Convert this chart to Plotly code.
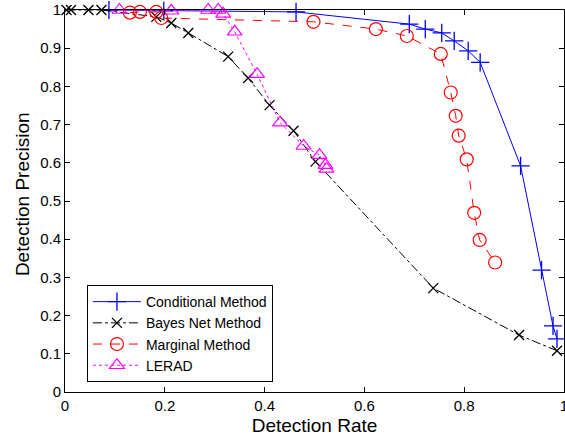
import plotly.graph_objects as go

cond_x = [0.088, 0.198, 0.463, 0.690, 0.722, 0.755, 0.780, 0.808, 0.832, 0.913, 0.955, 0.978, 0.986]
cond_y = [1.000, 0.998, 0.995, 0.963, 0.950, 0.940, 0.919, 0.893, 0.863, 0.592, 0.319, 0.173, 0.139]

bayes_x = [0.003, 0.012, 0.047, 0.073, 0.183, 0.213, 0.247, 0.327, 0.367, 0.410, 0.458, 0.502, 0.738, 0.910, 0.986]
bayes_y = [1.000, 1.000, 1.000, 1.000, 0.982, 0.966, 0.940, 0.878, 0.822, 0.751, 0.684, 0.603, 0.272, 0.149, 0.108]

marg_x = [0.130, 0.150, 0.183, 0.193, 0.498, 0.623, 0.685, 0.753, 0.773, 0.783, 0.789, 0.805, 0.820, 0.831, 0.862]
marg_y = [0.993, 0.995, 0.995, 0.979, 0.969, 0.950, 0.932, 0.885, 0.784, 0.723, 0.671, 0.609, 0.469, 0.398, 0.339]

lerad_x = [0.109, 0.213, 0.287, 0.307, 0.317, 0.340, 0.385, 0.431, 0.478, 0.510, 0.522, 0.524]
lerad_y = [1.000, 0.998, 1.000, 1.000, 0.990, 0.943, 0.832, 0.705, 0.644, 0.620, 0.594, 0.584]

names = ["Conditional Method", "Bayes Net Method", "Marginal Method", "LERAD"]
x_ticks = [0, 0.2, 0.4, 0.6, 0.8, 1]
y_ticks = [0, 0.1, 0.2, 0.3, 0.4, 0.5, 0.6, 0.7, 0.8, 0.9, 1]

FONT = "Liberation Sans, Arial, sans-serif"

fig = go.Figure()
fig.add_trace(go.Scatter(x=cond_x, y=cond_y, name=names[0], mode="lines+markers",
                         line=dict(color="#0000ff", width=1),
                         marker=dict(symbol="cross-thin-open", size=13, color="#0000ff",
                                     line=dict(color="#0000ff", width=1.3)),
                         cliponaxis=False))
fig.add_trace(go.Scatter(x=bayes_x, y=bayes_y, name=names[1], mode="lines+markers",
                         line=dict(color="#000000", width=1, dash="dashdot"),
                         marker=dict(symbol="x-thin-open", size=10, color="#000000",
                                     line=dict(color="#000000", width=1.3)),
                         cliponaxis=False))
fig.add_trace(go.Scatter(x=marg_x, y=marg_y, name=names[2], mode="lines+markers",
                         line=dict(color="#ff0000", width=1, dash="dash"),
                         marker=dict(symbol="circle-open", size=13, color="#ff0000",
                                     line=dict(color="#ff0000", width=1.2)),
                         cliponaxis=False))
fig.add_trace(go.Scatter(x=lerad_x, y=lerad_y, name=names[3], mode="lines+markers",
                         line=dict(color="#ff00ff", width=1, dash="dot"),
                         marker=dict(symbol="triangle-up-open", size=13, color="#ff00ff",
                                     line=dict(color="#ff00ff", width=1.2)),
                         cliponaxis=False))

axis_common = dict(showgrid=False, zeroline=False, showline=True, linecolor="black",
                   linewidth=1, mirror="ticks", ticks="inside", ticklen=5,
                   tickcolor="black", automargin=False, ticklabeloverflow="allow",
                   tickfont=dict(family=FONT, size=15, color="black"))

def fmt(v):
    return str(int(v)) if v in (0, 1) else str(v)

fig.update_xaxes(range=[0, 1], tickvals=x_ticks, ticktext=[fmt(v) for v in x_ticks],
                 title=dict(text="Detection Rate", font=dict(family=FONT, size=19, color="black")),
                 **axis_common)
fig.update_yaxes(range=[0, 1], tickvals=y_ticks, ticktext=[fmt(v) for v in y_ticks],
                 **axis_common)

fig.add_annotation(text="Detection Precision", xref="paper", yref="paper",
                   x=-0.0862, y=0.518, xanchor="center", yanchor="middle",
                   textangle=-90, showarrow=False,
                   font=dict(family=FONT, size=19, color="black"))

fig.update_layout(
    width=565, height=436,
    margin=dict(l=65, r=1, t=10, b=44),
    plot_bgcolor="white", paper_bgcolor="white",
    font=dict(family=FONT, size=15, color="black"),
    legend=dict(x=0.044, y=0.28, xanchor="left", yanchor="top",
                bgcolor="white", bordercolor="black", borderwidth=1,
                font=dict(family=FONT, size=14, color="black"),
                itemwidth=48, tracegroupgap=0),
    showlegend=True,
)

fig.write_html("out.html", config={"displayModeBar": False},
               post_script="document.body.style.margin='0';document.body.style.overflow='hidden';")
